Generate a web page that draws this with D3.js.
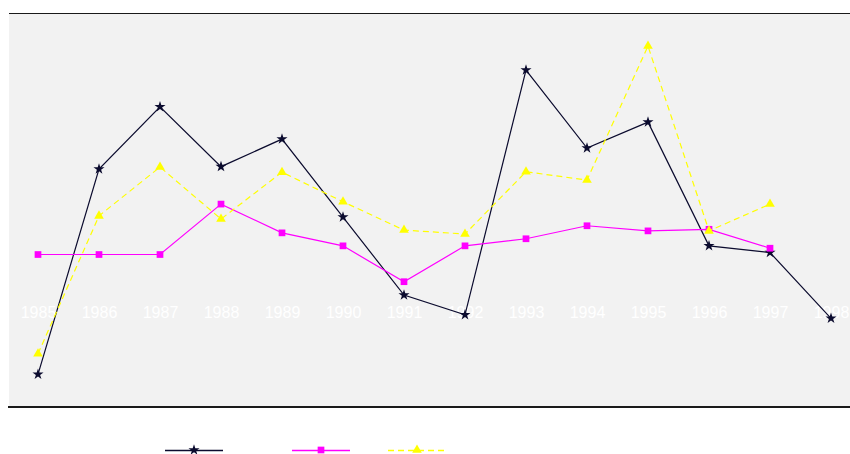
<!DOCTYPE html>
<html>
<head>
<meta charset="utf-8">
<script src="https://cdn.jsdelivr.net/npm/d3@7"></script>
<style>
  body { margin: 0; background: #fff; }
  svg { display: block; }
</style>
</head>
<body>
<div id="chart"></div>
<script>
// values (no y axis shown, arbitrary 0-100 units)
var years = [1985, 1986, 1987, 1988, 1989, 1990, 1991, 1992, 1993, 1994, 1995, 1996, 1997, 1998]
var seriesA = [8.3, 60.4, 76.2, 61.0, 68.0, 48.2, 28.4, 23.4, 85.5, 65.7, 72.3, 40.9, 39.2, 22.5]
var seriesB = [38.7, 38.7, 38.7, 51.5, 44.2, 40.9, 31.8, 40.9, 42.7, 46.0, 44.7, 45.1, 40.3]
var seriesC = [13.5, 48.5, 60.9, 47.7, 59.6, 52.1, 44.9, 43.9, 59.7, 57.6, 91.6, 44.7, 51.5]

var width = 850, height = 454

var svg = d3.select("#chart").append("svg")
    .attr("width", width)
    .attr("height", height)

// plot panel
svg.append("rect")
    .attr("x", 9).attr("y", 13)
    .attr("width", width - 9).attr("height", 394)
    .attr("fill", "#f2f2f2")

svg.append("line")
    .attr("x1", 9).attr("x2", width)
    .attr("y1", 13.5).attr("y2", 13.5)
    .attr("stroke", "#1a1a1a").attr("stroke-width", 1)

svg.append("line")
    .attr("x1", 8).attr("x2", width)
    .attr("y1", 407).attr("y2", 407)
    .attr("stroke", "#1a1a1a").attr("stroke-width", 2)

var x = d3.scalePoint()
    .domain(years)
    .range([38, 831])

var y = d3.scaleLinear()
    .domain([0, 100])
    .range([407, 13])

// x labels, white on the panel
var xAxis = d3.axisBottom(x).tickSize(0).tickPadding(0)
var gx = svg.append("g")
    .attr("transform", "translate(0,307)")
    .call(xAxis)
gx.select(".domain").remove()
gx.selectAll("text")
    .attr("fill", "#ffffff")
    .attr("font-family", "Liberation Sans, Arial, sans-serif")
    .attr("font-size", 16)

var series = [
  { name: "A", values: seriesA, color: "#0b0b2e", dash: null, marker: "star" },
  { name: "B", values: seriesB, color: "#ff00ff", dash: null, marker: "square" },
  { name: "C", values: seriesC, color: "#ffff00", dash: "6,4", marker: "triangle" }
]

var line = d3.line()
    .x((d, i) => x(years[i]))
    .y(d => y(d))

function marker(g, type, color) {
  var sym = type == "square" ? d3.symbolSquare : type == "triangle" ? d3.symbolTriangle : d3.symbolStar
  var size = type == "square" ? 45 : type == "triangle" ? 40 : 38
  return g.append("path")
      .attr("d", d3.symbol().type(sym).size(size))
      .attr("fill", color)
}

series.forEach(function(s) {

  svg.append("path")
      .datum(s.values)
      .attr("fill", "none")
      .attr("stroke", s.color)
      .attr("stroke-width", 1.2)
      .attr("stroke-dasharray", s.dash)
      .attr("d", line)

  s.values.forEach(function(v, i) {
    var g = svg.append("g")
        .attr("transform", "translate(" + x(years[i]) + "," + y(v) + ")")
    marker(g, s.marker, s.color)
  })

})

// legend (no visible labels in the original)
var legendX = [165, 292, 388]
series.forEach(function(s, i) {
  var g = svg.append("g").attr("transform", "translate(" + legendX[i] + ",450)")
  g.append("line")
      .attr("x1", 0).attr("x2", 58)
      .attr("y1", 0.5).attr("y2", 0.5)
      .attr("stroke", s.color)
      .attr("stroke-width", 1.5)
      .attr("stroke-dasharray", s.dash)
  var m = g.append("g").attr("transform", "translate(29,0)")
  marker(m, s.marker, s.color)
})
</script>
</body>
</html>
